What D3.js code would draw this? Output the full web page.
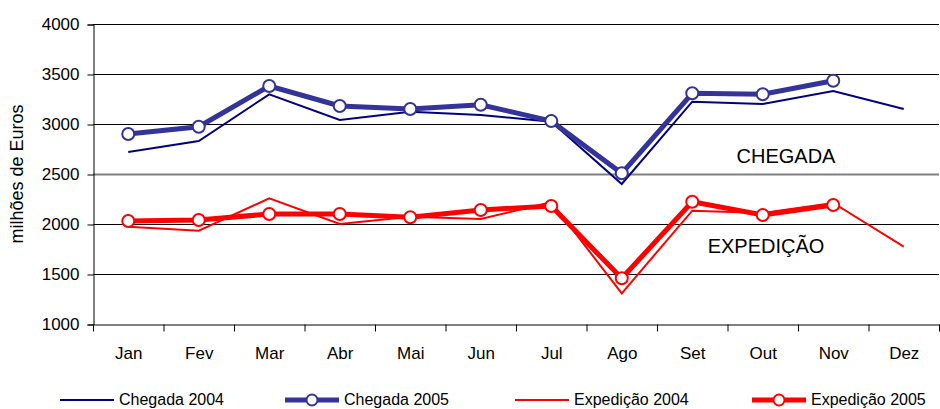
<!DOCTYPE html>
<html lang="pt">
<head>
    <meta charset="UTF-8">
    <title>Chegada e Expedição</title>
    <script src="https://d3js.org/d3.v7.min.js"></script>
    <style>
        body { margin: 0; background: #fff; }
        text { font-family: "Liberation Sans Narrow", "Arial Narrow", "Liberation Sans", Arial, sans-serif; fill: #000; }
    </style>
</head>
<body>
    <svg id="chart" width="940" height="409"></svg>

    <script>
        // Data (milhões de Euros)
        const months = ["Jan", "Fev", "Mar", "Abr", "Mai", "Jun", "Jul", "Ago", "Set", "Out", "Nov", "Dez"];
        const chegada2004 = [2720, 2830, 3297, 3040, 3123, 3090, 3023, 2400, 3223, 3200, 3330, 3150];
        const chegada2005 = [2900, 2973, 3380, 3180, 3150, 3193, 3030, 2507, 3307, 3297, 3433];
        const expedicao2004 = [1973, 1933, 2257, 2000, 2073, 2050, 2220, 1307, 2133, 2110, 2210, 1773];
        const expedicao2005 = [2030, 2040, 2100, 2100, 2067, 2140, 2180, 1457, 2223, 2090, 2190];
        const yTicks = [1000, 1500, 2000, 2500, 3000, 3500, 4000];

        const series = [
            { name: "Chegada 2004", values: chegada2004, color: "#000080", width: 2, marker: false },
            { name: "Chegada 2005", values: chegada2005, color: "#333399", width: 5, marker: true },
            { name: "Expedição 2004", values: expedicao2004, color: "#ff0000", width: 2, marker: false },
            { name: "Expedição 2005", values: expedicao2005, color: "#ff0000", width: 5, marker: true }
        ];

        const svg = d3.select("#chart");
        const margin = { top: 24, right: 1, bottom: 85, left: 93 };
        const width = 940 - margin.left - margin.right;
        const height = 409 - margin.top - margin.bottom;

        const g = svg.append("g")
            .attr("transform", `translate(${margin.left},${margin.top})`);

        const x = d3.scaleBand().domain(months).range([0, width]);
        const y = d3.scaleLinear().domain([1000, 4000]).range([height, 0]);

        // gridlines
        g.selectAll(".grid")
            .data(yTicks.filter(d => d > 1000))
            .enter()
            .append("line")
            .attr("x1", 0)
            .attr("x2", width)
            .attr("y1", d => y(d) + 0.5)
            .attr("y2", d => y(d) + 0.5)
            .attr("stroke", d => d === 2500 ? "#808080" : "#000")
            .attr("stroke-width", d => d === 2500 ? 2 : 1);

        // y axis
        const yAxis = g.append("g")
            .attr("transform", "translate(0.5,0.5)")
            .call(d3.axisLeft(y).tickValues(yTicks).tickFormat(d3.format("d")).tickSize(6).tickPadding(8));
        yAxis.selectAll("text").style("font-size", "17px");
        yAxis.selectAll("line, path").attr("stroke", "#000");

        // x axis
        const xAxis = g.append("g")
            .attr("transform", `translate(0.5,${height + 0.5})`)
            .call(d3.axisBottom(x).tickSize(0).tickPadding(22));
        xAxis.select(".domain").attr("stroke", "#000");
        xAxis.selectAll("text").style("font-size", "17px");
        // ticks at category boundaries
        xAxis.selectAll(".bound")
            .data(months.concat([null]))
            .enter()
            .append("line")
            .attr("x1", (d, i) => i * x.step())
            .attr("x2", (d, i) => i * x.step())
            .attr("y1", 0)
            .attr("y2", 7)
            .attr("stroke", "#000");

        // axis title
        svg.append("text")
            .attr("transform", "translate(23,174) rotate(-90)")
            .attr("text-anchor", "middle")
            .style("font-family", "'Liberation Sans', Arial, sans-serif")
            .style("font-size", "18px")
            .text("milhões de Euros");

        const line = d3.line()
            .x((d, i) => x(months[i]) + x.bandwidth() / 2)
            .y(d => y(d));

        series.forEach(s => {
            g.append("path")
                .datum(s.values)
                .attr("fill", "none")
                .attr("stroke", s.color)
                .attr("stroke-width", s.width)
                .attr("stroke-linejoin", "miter")
                .attr("d", line);
            if (s.marker) {
                g.selectAll(null)
                    .data(s.values)
                    .enter()
                    .append("circle")
                    .attr("cx", (d, i) => x(months[i]) + x.bandwidth() / 2)
                    .attr("cy", d => y(d))
                    .attr("r", 6)
                    .attr("fill", "#fff")
                    .attr("stroke", s.color)
                    .attr("stroke-width", 2);
            }
        });

        // annotations
        svg.append("text")
            .attr("x", 786)
            .attr("y", 163)
            .attr("text-anchor", "middle")
            .style("font-family", "'Liberation Sans', Arial, sans-serif")
            .style("font-size", "20px")
            .text("CHEGADA");
        svg.append("text")
            .attr("x", 766)
            .attr("y", 253)
            .attr("text-anchor", "middle")
            .style("font-family", "'Liberation Sans', Arial, sans-serif")
            .style("font-size", "20px")
            .text("EXPEDIÇÃO");

        // legend
        const legendX = [60, 285, 515, 752];
        const legend = svg.append("g").attr("transform", "translate(0,400)");
        series.forEach((s, i) => {
            const lg = legend.append("g").attr("transform", `translate(${legendX[i]},0)`);
            lg.append("line")
                .attr("x1", 0).attr("x2", 54)
                .attr("y1", 0).attr("y2", 0)
                .attr("stroke", s.color)
                .attr("stroke-width", s.width);
            if (s.marker) {
                lg.append("circle")
                    .attr("cx", 27).attr("cy", 0).attr("r", 5.5)
                    .attr("fill", "#fff")
                    .attr("stroke", s.color)
                    .attr("stroke-width", 2);
            }
            lg.append("text")
                .attr("x", 59)
                .attr("y", 5)
                .style("font-size", "16px")
                .text(s.name);
        });
    </script>
</body>
</html>
